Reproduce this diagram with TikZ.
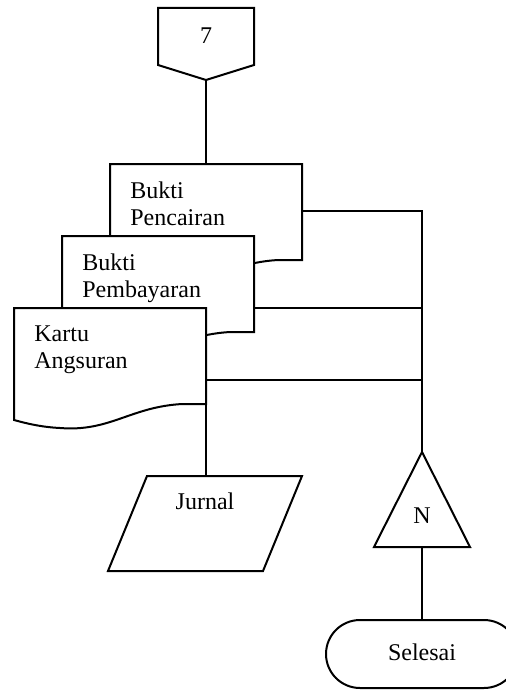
\documentclass[tikz,border=0pt]{standalone}
\usepackage{fontspec}
\setmainfont{Liberation Serif}
\usetikzlibrary{positioning}

\begin{document}
\begin{tikzpicture}[x=0.5pt, y=-0.5pt, every node/.style={font=\fontsize{12}{13.8}\selectfont}]
  \tikzset{
    flow/.style={draw=black, line width=1pt, line join=miter},
    doc/.style={flow, fill=white},
    txtbox/.style={anchor=north west, align=left, inner sep=0pt},
    mid/.style={inner sep=0pt},
    wire/.style={draw=black, line width=1pt},
  }
  \useasboundingbox (0,0) rectangle (506,690);

  %% ===== Off-page connector =====
  \draw[flow] (158,8) -- (254,8) -- (254,65) -- (206,80) -- (158,65) -- cycle;
  \node[mid] (hal7) at (206,36) {7};
  \coordinate (hal7-out) at (206,80);

  %% ===== Document stack (back to front) =====
  \foreach \dx/\dy/\nm/\txt in {96/-144/cair/{Bukti\\Pencairan},
                                48/-72/bayar/{Bukti\\Pembayaran},
                                0/0/kartu/{Kartu\\Angsuran}} {
    \begin{scope}[shift={(\dx,\dy)}]
      \filldraw[doc] (14,308) -- (206,308) -- (206,404) -- (182,404)
        .. controls (130,407) and (110,432) .. (60,428)
        .. controls (40,427) and (25,423) .. (14,420) -- cycle;
      \node[txtbox] (\nm) at (34,325) {\txt};
    \end{scope}
  }
  \coordinate (cair-in) at (206,164);
  \coordinate (cair-out) at (302,211);
  \coordinate (bayar-out) at (254,308);
  \coordinate (kartu-out) at (206,380);
  \coordinate (kartu-bot) at (206,404);

  %% ===== Journal (parallelogram) =====
  \draw[flow] (147,476) -- (302,476) -- (263,571) -- (108,571) -- cycle;
  \node[mid] (jurnal) at (205,501) {Jurnal};
  \coordinate (jurnal-in) at (206,476);

  %% ===== Archive (triangle) =====
  \draw[flow] (422,452) -- (470,547) -- (374,547) -- cycle;
  \node[mid] (arsip) at (422,516) {N};
  \coordinate (arsip-in) at (422,452);
  \coordinate (arsip-out) at (422,547);
  \coordinate (bus-top) at (422,211);

  %% ===== Terminator =====
  \draw[flow, rounded corners=17pt] (326,620) rectangle (518,688);
  \node[mid] (selesai) at (422,652) {Selesai};
  \coordinate (selesai-in) at (422,620);

  %% ===== Connectors =====
  \draw[wire] (hal7-out) -- (cair-in);
  \draw[wire] (kartu-bot) -- (jurnal-in);
  \draw[wire] (cair-out) -- (bus-top) -- (arsip-in);
  \draw[wire] (bayar-out) -- (bayar-out -| bus-top);
  \draw[wire] (kartu-out) -- (kartu-out -| bus-top);
  \draw[wire] (arsip-out) -- (selesai-in);
\end{tikzpicture}
\end{document}
